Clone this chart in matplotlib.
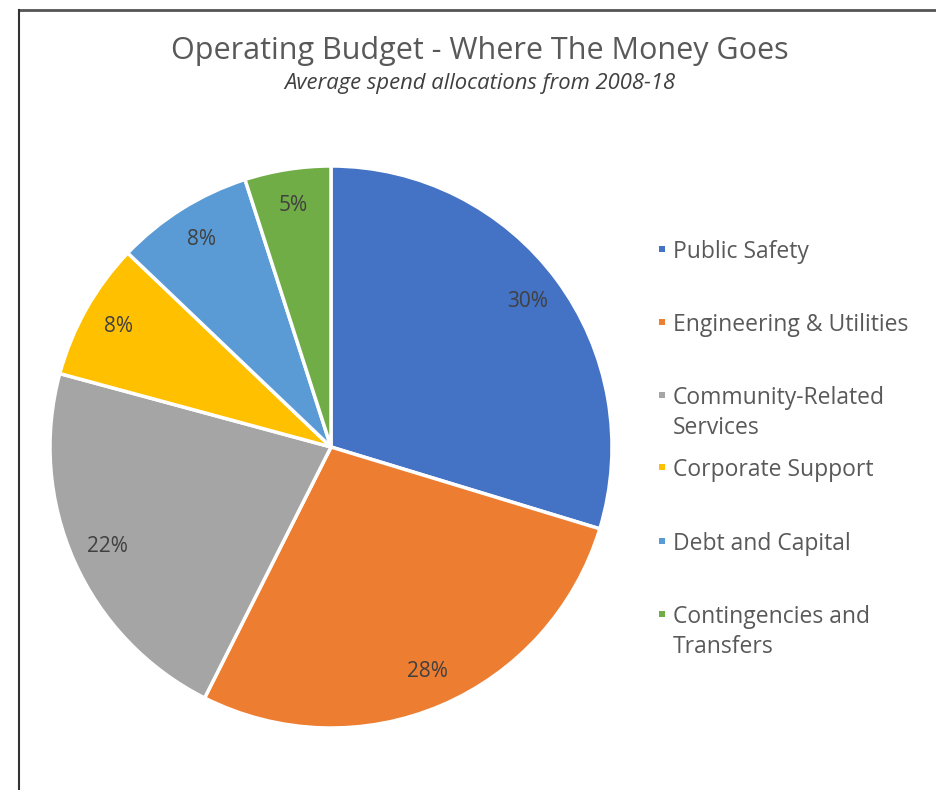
import matplotlib
matplotlib.use("Agg")
import matplotlib.pyplot as plt
from matplotlib.patches import Rectangle
from matplotlib.lines import Line2D
import numpy as np

categories = ["Public Safety", "Engineering & Utilities", "Community-Related\nServices",
              "Corporate Support", "Debt and Capital", "Contingencies and\nTransfers"]
shares = [30, 28, 22, 8, 8, 5]
share_labels = ["30%", "28%", "22%", "8%", "8%", "5%"]
colors = ["#4472C4", "#ED7D31", "#A5A5A5", "#FFC000", "#5B9BD5", "#70AD47"]

title = "Operating Budget - Where The Money Goes"
subtitle = "Average spend allocations from 2008-18"

FONT = "Open Sans"
TEXT_COLOR = "#595959"

W, H = 937, 790
fig = plt.figure(figsize=(W / 100, H / 100), dpi=100)
fig.patch.set_facecolor("white")

# pie axes: center (331, 447) px, radius 281 px
cx, cy, r = 331, 447, 281
ax = fig.add_axes([(cx - r) / W, 1 - (cy + r) / H, 2 * r / W, 2 * r / H])
wedges, _ = ax.pie(shares, colors=colors, startangle=90, counterclock=False,
                   radius=1.0, wedgeprops=dict(edgecolor="white", linewidth=2.5))
ax.set_xlim(-1, 1)
ax.set_ylim(-1, 1)
ax.set_aspect("equal")
ax.axis("off")

for w, lab in zip(wedges, share_labels):
    mid = np.deg2rad((w.theta1 + w.theta2) / 2)
    d = 0.87
    ax.text(d * np.cos(mid), d * np.sin(mid), lab, ha="center", va="center",
            fontsize=15, color="#404040", family=FONT)

# titles
fig.text(480 / W, 1 - 51 / H, title, ha="center", va="center",
         fontsize=22, color=TEXT_COLOR, family=FONT)
fig.text(480 / W, 1 - 84 / H, subtitle, ha="center", va="center",
         fontsize=15.8, color="#404040", family=FONT, style="italic")

# legend
leg_y = [249, 322, 395, 467, 541, 614]
for y, name, c in zip(leg_y, categories, colors):
    fig.add_artist(Rectangle((659 / W, 1 - (y + 3) / H), 6 / W, 6 / H,
                             transform=fig.transFigure, facecolor=c, edgecolor="none"))
    fig.text(673 / W, 1 - (y - 9) / H, name, ha="left", va="top",
             fontsize=16.5, color=TEXT_COLOR, family=FONT, linespacing=1.35,
             transform=fig.transFigure)

# frame lines (top and left)
fig.add_artist(Line2D([19 / W, 1.0], [1 - 10 / H, 1 - 10 / H], transform=fig.transFigure,
                      color="#555555", linewidth=2))
fig.add_artist(Line2D([19 / W, 19 / W], [0, 1 - 10 / H], transform=fig.transFigure,
                      color="#333333", linewidth=1.5))

fig.savefig("out.png", dpi=100, facecolor="white")
